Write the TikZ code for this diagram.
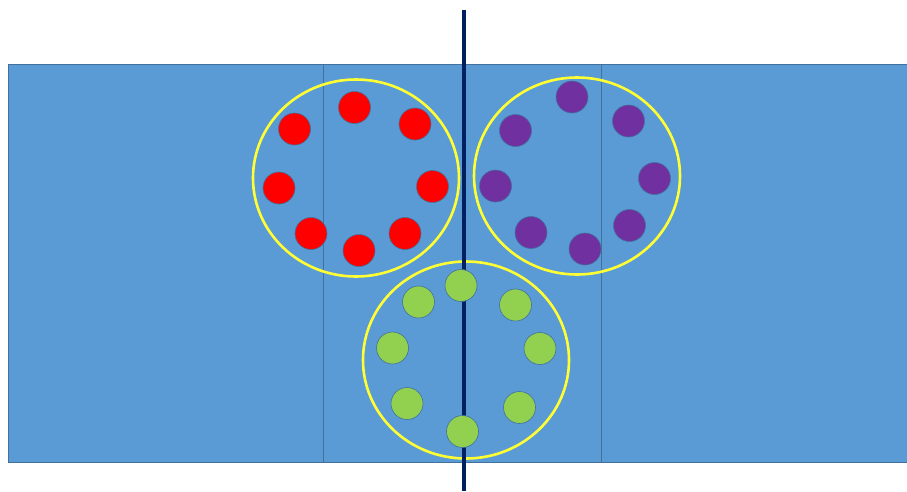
\documentclass[tikz,border=0pt]{standalone}
\usepackage{xcolor}
\definecolor{bgblue}{HTML}{5B9BD5}
\definecolor{edgeblue}{HTML}{41719C}
\definecolor{dotred}{HTML}{FF0000}
\definecolor{dotpurple}{HTML}{7030A0}
\definecolor{dotgreen}{HTML}{92D050}
\definecolor{ringyellow}{HTML}{FFFF33}
\definecolor{navy}{HTML}{002060}
\begin{document}
\begin{tikzpicture}[x=1pt,y=-1pt,
  ring/.style={draw=ringyellow,line width=2.6pt},
  dotbase/.style={circle,minimum size=32pt,inner sep=0pt,draw=edgeblue,line width=0.6pt},
  reddot/.style={dotbase,fill=dotred},
  purpledot/.style={dotbase,fill=dotpurple},
  greendot/.style={dotbase,fill=dotgreen}]
\useasboundingbox (0,0) rectangle (907,491);
\fill[white] (0,0) rectangle (907,491);
% field
\draw[fill=bgblue,draw=edgeblue,line width=0.8pt] (8.5,64.5) rectangle (908,462);
\draw[edgeblue,line width=0.6pt] (323,64.5) -- (323,462);
\draw[edgeblue,line width=0.6pt] (601,64.5) -- (601,462);
% rings
\draw[ring] (356,178) ellipse [x radius=103, y radius=98.5];
\draw[ring] (577,176) ellipse [x radius=103, y radius=98.5];
\draw[ring] (466,360) ellipse [x radius=103, y radius=98.5];
% net line
\coordinate (ltop) at (464,10);
\coordinate (lbot) at (464,491);
\draw[navy,line width=4pt] (ltop) -- (lbot);
% red dots
\node[reddot] (r1) at (354.5,107.5) {};
\node[reddot] (r2) at (415,124) {};
\node[reddot] (r3) at (432.5,186.5) {};
\node[reddot] (r4) at (405,233.5) {};
\node[reddot] (r5) at (359,250.5) {};
\node[reddot] (r6) at (311,233.5) {};
\node[reddot] (r7) at (279,188) {};
\node[reddot] (r8) at (294.5,129) {};
% purple dots
\node[purpledot] (p1) at (572,97) {};
\node[purpledot] (p2) at (628.5,121) {};
\node[purpledot] (p3) at (654.5,178.5) {};
\node[purpledot] (p4) at (629.5,225.5) {};
\node[purpledot] (p5) at (585,249) {};
\node[purpledot] (p6) at (531,232.5) {};
\node[purpledot] (p7) at (495.5,186) {};
\node[purpledot] (p8) at (515.5,130.5) {};
% green dots
\node[greendot] (g1) at (461,285.5) {};
\node[greendot] (g2) at (515.5,305) {};
\node[greendot] (g3) at (540,348.5) {};
\node[greendot] (g4) at (519.5,407.5) {};
\node[greendot] (g5) at (462.5,431.5) {};
\node[greendot] (g6) at (407,403.5) {};
\node[greendot] (g7) at (392.5,348) {};
\node[greendot] (g8) at (418.5,302) {};
\end{tikzpicture}
\end{document}
